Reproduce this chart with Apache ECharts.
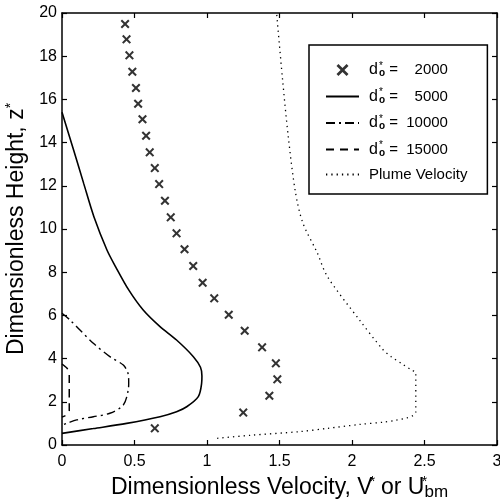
<!DOCTYPE html>
<html><head><meta charset="utf-8">
<script src="https://cdn.jsdelivr.net/npm/echarts@6/dist/echarts.min.js"></script>
<style>html,body{margin:0;padding:0;background:#fff}#c{width:500px;height:499px}</style>
</head><body><div id="c"></div>
<script>
// tick labels
const xTickLabels = ['0', '0.5', '1', '1.5', '2', '2.5', '3'];
const yTickLabels = ['0', '2', '4', '6', '8', '10', '12', '14', '16', '18', '20'];
// series names
const seriesNums = ['2000', '5000', '10000', '15000'];
// d*o = 2000 (crosses)
const v2000 = [0.64, 1.25, 1.43, 1.485, 1.475, 1.38, 1.26, 1.15, 1.05, 0.97, 0.905, 0.845, 0.79, 0.75, 0.71, 0.67, 0.64, 0.605, 0.58, 0.555, 0.525, 0.51, 0.485, 0.465, 0.445, 0.435];
const z2000 = [0.77, 1.5, 2.28, 3.04, 3.78, 4.52, 5.29, 6.03, 6.79, 7.51, 8.29, 9.06, 9.8, 10.54, 11.31, 12.08, 12.82, 13.55, 14.32, 15.08, 15.8, 16.53, 17.28, 18.04, 18.78, 19.49];
// d*o = 5000 (solid)
const v5000 = [0, 0.08, 0.15, 0.22, 0.31, 0.37, 0.46, 0.56, 0.676, 0.79, 0.906, 0.955, 0.965, 0.963, 0.94, 0.86, 0.79, 0.676, 0.446, 0.216, 0];
const z5000 = [15.4, 13.66, 12.1, 10.57, 9.03, 8.25, 7.18, 6.25, 5.48, 4.86, 4.09, 3.6, 3.2, 2.86, 2.24, 1.77, 1.54, 1.31, 1.0, 0.76, 0.54];
// d*o = 10000 (dash-dot)
const v10000 = [0, 0.055, 0.124, 0.216, 0.33, 0.423, 0.455, 0.46, 0.457, 0.423, 0.33, 0.216, 0.101, 0.032, 0];
const z10000 = [6.1, 5.79, 5.32, 4.71, 4.09, 3.7, 3.32, 2.9, 2.55, 1.85, 1.47, 1.31, 1.16, 1.0, 0.93];
// d*o = 15000 (dashed)
const v15000 = [0, 0.035, 0.05, 0.05, 0.035, 0];
const z15000 = [3.75, 3.55, 3.3, 1.6, 1.4, 1.3];
// plume velocity (dotted)
const vPlume = [1.07, 1.3, 1.64, 1.83, 2.05, 2.22, 2.3, 2.38, 2.42, 2.44, 2.44, 2.41, 2.34, 2.27, 2.21, 2.05, 1.83, 1.76, 1.66, 1.61, 1.56, 1.52, 1.48];
const zPlume = [0.31, 0.45, 0.62, 0.77, 0.95, 1.06, 1.14, 1.26, 1.36, 1.54, 3.35, 3.47, 3.78, 4.09, 4.44, 5.8, 7.8, 8.9, 10.3, 11.7, 14.3, 17.0, 20.0];

const zip = (a, b) => a.map((v, i) => [v, b[i]]);
const FONT = 'Liberation Sans';
const crossPath = 'path://M0,1.6L1.6,0L5,3.4L8.4,0L10,1.6L6.6,5L10,8.4L8.4,10L5,6.6L1.6,10L0,8.4L3.4,5Z';

const chart = echarts.init(document.getElementById('c'), null, {renderer: 'canvas'});
const axisCommon = {
  axisLine: {show: true, onZero: false, lineStyle: {color: '#000', width: 1.5}},
  axisTick: {show: true, inside: true, length: 5, lineStyle: {color: '#000', width: 1.2}},
  splitLine: {show: false}
};
const noSym = {itemStyle: {opacity: 0}};
chart.setOption({
  animation: false,
  backgroundColor: '#fff',
  grid: {left: 62, right: 3, top: 13, bottom: 54, containLabel: false, outerBoundsMode: 'none'},
  xAxis: [
    Object.assign({
      type: 'value', min: 0, max: 3, interval: 0.5, position: 'bottom',
      name: 'Dimensionless Velocity, V{sp|*}{s|} or U{sp|*}{sb|bm}',
      nameLocation: 'middle', nameGap: 27,
      nameTextStyle: {
        fontFamily: FONT, fontSize: 23, color: '#000',
        rich: {
          sp: {fontFamily: FONT, fontSize: 14, color: '#000', width: 0, padding: [0, 0, 11, 0]},
          s: {fontFamily: FONT, fontSize: 23, width: 2},
          sb: {fontFamily: FONT, fontSize: 17, color: '#000', padding: [9, 0, 0, 0]}
        }
      },
      axisLabel: {fontFamily: FONT, fontSize: 16, color: '#000', margin: 9,
        formatter: v => xTickLabels[Math.round(v / 0.5)]}
    }, axisCommon),
    Object.assign({
      type: 'value', min: 0, max: 3, interval: 0.5, position: 'top',
      axisLabel: {show: false}
    }, axisCommon)
  ],
  yAxis: [
    Object.assign({
      type: 'value', min: 0, max: 20, interval: 2, position: 'left',
      name: 'Dimensionless Height, z{sp|*}',
      nameLocation: 'middle', nameGap: 32, nameRotate: 90,
      nameTextStyle: {
        fontFamily: FONT, fontSize: 23, color: '#000',
        rich: {sp: {fontFamily: FONT, fontSize: 14, color: '#000', padding: [0, 0, 11, 0]}}
      },
      axisLabel: {fontFamily: FONT, fontSize: 16, color: '#000', margin: 5,
        formatter: v => yTickLabels[Math.round(v / 2)]}
    }, axisCommon),
    Object.assign({
      type: 'value', min: 0, max: 20, interval: 2, position: 'right',
      axisLabel: {show: false}
    }, axisCommon)
  ],
  legend: {
    orient: 'vertical', left: 309, top: 45,
    backgroundColor: '#fff',
    borderColor: '#000', borderWidth: 1.5, borderRadius: 0,
    padding: [16, 20, 12, 16],
    itemWidth: 33, itemHeight: 12, itemGap: 9,
    data: [
      {name: 'd2000'},
      Object.assign({name: 'd5000'}, noSym),
      Object.assign({name: 'd10000'}, noSym),
      Object.assign({name: 'd15000'}, noSym),
      Object.assign({name: 'Plume Velocity'}, noSym)
    ],
    formatter: function (name) {
      if (name.charAt(0) === 'd') {
        return '{d|d}{sp|*}{sb|o}{eq| =}{num|' + name.slice(1) + '}';
      }
      return '{t|' + name + '}';
    },
    textStyle: {
      fontFamily: FONT, fontSize: 15, color: '#000',
      rich: {
        d: {fontFamily: FONT, fontSize: 16, color: '#000', padding: [0, 0, 0, 5]},
        sp: {fontFamily: FONT, fontSize: 10, color: '#000', width: 0, padding: [0, 0, 8, 1]},
        sb: {fontFamily: FONT, fontSize: 10, color: '#000', padding: [7, 0, 0, 0], fontWeight: 'bold'},
        eq: {fontFamily: FONT, fontSize: 15, color: '#000'},
        num: {fontFamily: FONT, fontSize: 15, color: '#000', width: 50, align: 'right'},
        t: {fontFamily: FONT, fontSize: 15, color: '#000', padding: [0, 0, 0, 5]}
      }
    }
  },
  series: [
    {
      name: 'd' + seriesNums[0], type: 'scatter', data: zip(v2000, z2000),
      symbol: crossPath, symbolSize: 9,
      itemStyle: {color: '#000'}
    },
    {
      name: 'd' + seriesNums[1], type: 'line', data: zip(v5000, z5000), smooth: 0.3,
      showSymbol: false, symbol: 'none',
      lineStyle: {color: '#000', width: 1.6, type: 'solid'}, itemStyle: {color: '#000'}
    },
    {
      name: 'd' + seriesNums[2], type: 'line', data: zip(v10000, z10000), smooth: 0.3,
      showSymbol: false, symbol: 'none',
      lineStyle: {color: '#000', width: 1.4, type: [9, 4, 2, 4]}, itemStyle: {color: '#000'}
    },
    {
      name: 'd' + seriesNums[3], type: 'line', data: zip(v15000, z15000), smooth: 0.2,
      showSymbol: false, symbol: 'none',
      lineStyle: {color: '#000', width: 1.5, type: [8, 6]}, itemStyle: {color: '#000'}
    },
    {
      name: 'Plume Velocity', type: 'line', data: zip(vPlume, zPlume), smooth: 0.3,
      showSymbol: false, symbol: 'none',
      lineStyle: {color: '#000', width: 1.3, type: [1.3, 4]}, itemStyle: {color: '#000'}
    }
  ]
});
</script>
</body></html>
